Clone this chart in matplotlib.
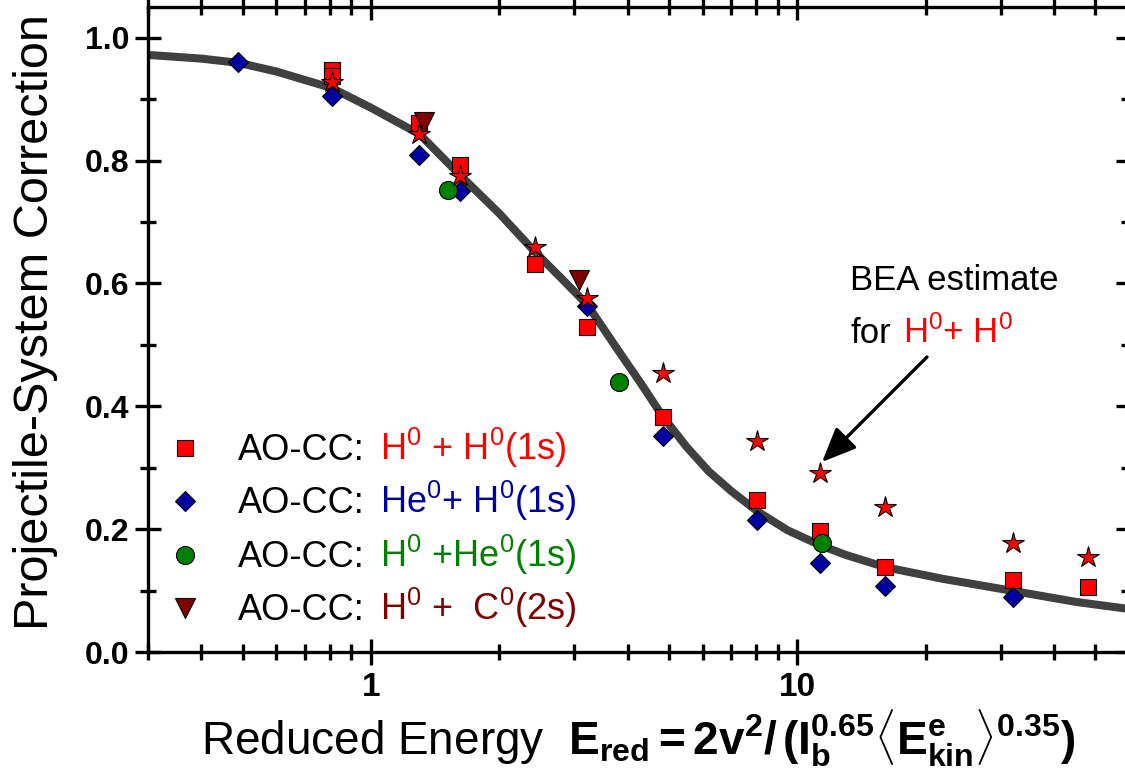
import matplotlib
matplotlib.use("Agg")
import matplotlib.pyplot as plt
from matplotlib.ticker import LogLocator, MultipleLocator, FixedLocator, NullFormatter

plt.rcParams["font.family"] = ["Liberation Sans", "DejaVu Sans"]
plt.rcParams["mathtext.fontset"] = "custom"
plt.rcParams["mathtext.rm"] = "Liberation Sans"
plt.rcParams["mathtext.it"] = "Liberation Sans:italic"
plt.rcParams["mathtext.bf"] = "Liberation Sans:bold"

# AO-CC: H0 + H0(1s)
hh_x = [0.81, 0.81, 1.30, 1.62, 2.42, 3.22, 4.83, 8.06, 11.3, 16.1, 32.0, 48.0]
hh_y = [0.948, 0.938, 0.861, 0.792, 0.631, 0.529, 0.382, 0.248, 0.197, 0.139, 0.117, 0.106]

# AO-CC: He0 + H0(1s)
heh_x = [0.488, 0.81, 1.30, 1.62, 3.22, 4.83, 8.06, 11.3, 16.1, 32.0]
heh_y = [0.961, 0.905, 0.809, 0.750, 0.563, 0.352, 0.215, 0.145, 0.108, 0.090]

# AO-CC: H0 + He0(1s)
hhe_x = [1.52, 3.81, 11.4]
hhe_y = [0.752, 0.440, 0.178]

# AO-CC: H0 + C0(2s)
hc_x = [1.33, 3.07]
hc_y = [0.863, 0.605]

# BEA estimate for H0 + H0
bea_x = [0.81, 1.30, 1.62, 2.42, 3.22, 4.83, 8.06, 11.3, 16.1, 32.0, 48.0]
bea_y = [0.928, 0.843, 0.775, 0.659, 0.576, 0.455, 0.344, 0.292, 0.236, 0.178, 0.155]

# fitted curve
fit_x = [0.3, 0.4, 0.49, 0.6, 0.81, 1.0, 1.3, 1.62, 2.0, 2.42, 2.8, 3.22, 3.81, 4.3,
         4.83, 5.5, 6.2, 7.0, 8.06, 9.5, 11.3, 13.0, 16.1, 22.0, 32.0, 45.0, 60.0]
fit_y = [0.972, 0.966, 0.959, 0.945, 0.918, 0.886, 0.843, 0.776, 0.714, 0.652, 0.608,
         0.565, 0.490, 0.437, 0.384, 0.334, 0.294, 0.262, 0.229, 0.198, 0.174, 0.158,
         0.138, 0.119, 0.0995, 0.0816, 0.070]

RED = "#ff0000"
BLUE = "#0000a0"
GREEN = "#008000"
DRED = "#800000"

fig = plt.figure(figsize=(11.25, 7.82), dpi=100)
ax = fig.add_axes([148 / 1125, 130 / 782, 981 / 1125, 645 / 782])

ax.plot(fit_x, fit_y, color="#404040", lw=5.8, zorder=2, solid_capstyle="butt",
        solid_joinstyle="round")

mk = dict(linestyle="none", markeredgecolor="black", markeredgewidth=0.8, zorder=3)
ax.plot(hh_x, hh_y, marker="s", ms=12, color=RED, **mk)
ax.plot(heh_x, heh_y, marker="D", ms=10.5, color=BLUE, **mk)
ax.plot(hhe_x, hhe_y, marker="o", ms=13, color=GREEN, **mk)
ax.plot(hc_x, hc_y, marker="v", ms=15, color=DRED, **mk)
ax.plot(bea_x, bea_y, marker="*", ms=16, color=RED, **mk)

ax.set_xscale("log")
ax.set_xlim(0.3, 60)
ax.set_ylim(0, 1.05)

ax.xaxis.set_major_locator(FixedLocator([1, 10]))
ax.xaxis.set_major_formatter(matplotlib.ticker.FixedFormatter(["1", "10"]))
ax.xaxis.set_minor_locator(LogLocator(base=10, subs=range(2, 10)))
ax.xaxis.set_minor_formatter(NullFormatter())
ax.yaxis.set_major_locator(MultipleLocator(0.2))
ax.yaxis.set_minor_locator(MultipleLocator(0.1))
ax.yaxis.set_major_formatter(matplotlib.ticker.FormatStrFormatter("%.1f"))

for s in ax.spines.values():
    s.set_linewidth(2.4)
ax.tick_params(which="both", direction="inout", top=True, right=True, width=2.4)
ax.tick_params(which="major", length=19)
ax.tick_params(which="minor", length=11)
ax.tick_params(axis="y", labelsize=23, pad=4)
ax.tick_params(axis="x", labelsize=24, pad=5)
for lab in ax.get_xticklabels() + ax.get_yticklabels():
    lab.set_fontweight("bold")

ax.set_ylabel("Projectile-System Correction", fontsize=35)
ax.yaxis.set_label_coords(-0.092, 0.512)
ax.set_xlabel(r"Reduced Energy  $\mathbf{E_{red} = 2v^2 /\, (I_b^{0.65}\langle E^e_{kin}\rangle^{0.35})}$",
              fontsize=33)
ax.xaxis.set_label_coords(0.5, -0.086)

# legend drawn by hand so the reaction names can take their own colours
rows = [
    ("s", 12, RED, r"H$^0$ + H$^0$(1s)"),
    ("D", 10.5, BLUE, r"He$^0$+ H$^0$(1s)"),
    ("o", 13, GREEN, r"H$^0$ +He$^0$(1s)"),
    ("v", 15, DRED, r"H$^0$ +  C$^0$(2s)"),
]
row_mark_y = [0.316, 0.234, 0.150, 0.068]
row_text_y = [0.298, 0.216, 0.132, 0.050]
for (m, size, col, lab), my, ty in zip(rows, row_mark_y, row_text_y):
    ax.plot([0.0377], [my], marker=m, ms=size, color=col, markeredgecolor="black",
            markeredgewidth=0.8, transform=ax.transAxes, clip_on=False, linestyle="none")
    ax.text(0.0917, ty, "AO-CC:", fontsize=26, va="baseline", transform=ax.transAxes)
    ax.text(0.2365, ty, lab, fontsize=26, color=col, va="baseline", transform=ax.transAxes)

# BEA note with arrow
ax.text(0.7156, 0.561, "BEA estimate", fontsize=25, va="baseline", transform=ax.transAxes)
ax.text(0.7156, 0.479, "for", fontsize=25, va="baseline", transform=ax.transAxes)
ax.text(0.7696, 0.479, r"H$^0$+ H$^0$", fontsize=25, color=RED, va="baseline",
        transform=ax.transAxes)
ax.annotate("", xy=(0.6871, 0.2946), xytext=(0.7941, 0.4574),
            xycoords="axes fraction", textcoords="axes fraction",
            arrowprops=dict(arrowstyle="-|>,head_length=0.7,head_width=0.3",
                            mutation_scale=30, lw=2.4, color="black", shrinkA=0, shrinkB=0))

fig.savefig("out.png", dpi=100)
